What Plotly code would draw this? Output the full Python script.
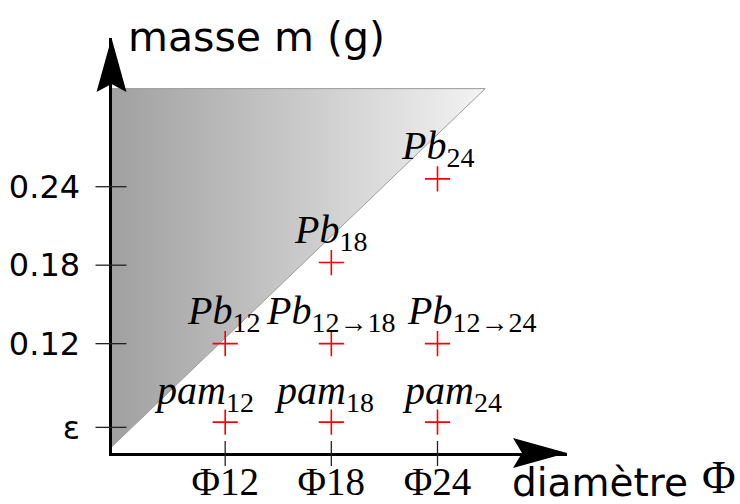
import plotly.graph_objects as go

W, H = 740, 504

# --- data ---
diametres = [12, 18, 24]
x_ticktext = ["Φ12", "Φ18", "Φ24"]

eps = 0.056
mass_ticks = [eps, 0.12, 0.18, 0.24]
mass_ticktext = ["ε", "0.12", "0.18", "0.24"]

pb_x = [12, 18, 24, 18, 24]
pb_y = [0.12, 0.12, 0.12, 0.182, 0.246]
pb_subs = ["12", "12→18", "12→24", "18", "24"]

pam_x = [12, 18, 24]
pam_y = [0.06, 0.06, 0.06]
pam_subs = ["12", "18", "24"]

# shaded zone (triangle) in data units
zone_x = [5.58, 5.58, 26.7, 5.58]
zone_y = [0.041, 0.315, 0.315, 0.041]

# label offsets (px) relative to their marker
pb_dx = [-39, -66, -31, -38, -37]
pam_dx = [-72, -58, -36]

# axis geometry
x_range = [5.575, 31.32]
y_range = [0.0364, 0.3537]
ox, oy = 111.5 / W, 1 - 453 / H  # origin in paper coords

LABEL_FONT = dict(family="Liberation Serif", size=40, color="black")
SANS = "DejaVu Sans"

fig = go.Figure()

fig.add_trace(go.Scatter(
    x=zone_x, y=zone_y,
    mode="lines",
    fill="toself",
    fillgradient=dict(type="horizontal",
                      colorscale=[[0, "#a0a0a0"], [1, "#f3f3f3"]]),
    line=dict(color="#9c9c9c", width=1),
    hoverinfo="skip",
))

cross = dict(symbol="cross-thin", size=18, line=dict(color="red", width=1.6))
fig.add_trace(go.Scatter(x=pb_x, y=pb_y, mode="markers", marker=cross))
fig.add_trace(go.Scatter(x=pam_x, y=pam_y, mode="markers", marker=cross))

for x, y, sub, dx in zip(pb_x, pb_y, pb_subs, pb_dx):
    fig.add_annotation(x=x, y=y, text=f"<i>Pb</i><sub>{sub}</sub>",
                       xanchor="left", yanchor="bottom", xshift=dx, yshift=5,
                       showarrow=False, borderpad=0, font=LABEL_FONT)

for x, y, sub, dx in zip(pam_x, pam_y, pam_subs, pam_dx):
    fig.add_annotation(x=x, y=y, text=f"<i>pam</i><sub>{sub}</sub>",
                       xanchor="left", yanchor="bottom", xshift=dx, yshift=3,
                       showarrow=False, borderpad=0, font=LABEL_FONT)

# tick marks crossing the axes
for v in mass_ticks:
    fig.add_shape(type="line", xref="paper", xsizemode="pixel", xanchor=ox,
                  x0=-16, x1=15, yref="y", y0=v, y1=v,
                  line=dict(color="#222", width=1.3))
for v in diametres:
    fig.add_shape(type="line", yref="paper", ysizemode="pixel", yanchor=oy,
                  y0=12, y1=-13, xref="x", x0=v, x1=v,
                  line=dict(color="#222", width=1.3))

# arrow heads
fig.add_shape(type="path", xref="paper", yref="paper",
              xsizemode="pixel", ysizemode="pixel",
              xanchor=ox, yanchor=1 - 38 / H,
              path="M0,0 L-15,-54 L0,-46 L15,-54 Z",
              fillcolor="black", line=dict(width=0))
fig.add_shape(type="path", xref="paper", yref="paper",
              xsizemode="pixel", ysizemode="pixel",
              xanchor=567 / W, yanchor=oy,
              path="M0,0 L-54,15 L-45,0 L-54,-15 Z",
              fillcolor="black", line=dict(width=0))

# axis titles
fig.add_annotation(xref="paper", yref="paper", x=126 / W, y=1 - 37 / H,
                   xanchor="left", yanchor="middle", showarrow=False,
                   text="masse m (g)",
                   font=dict(family=SANS, size=41, color="black"))
fig.add_annotation(xref="paper", yref="paper", x=690 / W, y=0,
                   xanchor="right", yanchor="bottom", yshift=-3, showarrow=False,
                   text="diamètre",
                   font=dict(family=SANS, size=39, color="black"))
fig.add_annotation(xref="paper", yref="paper", x=737 / W, y=0,
                   xanchor="right", yanchor="bottom", yshift=0, showarrow=False,
                   borderpad=0, text="Φ",
                   font=dict(family="Liberation Serif", size=46, color="black"))

fig.update_layout(
    width=W, height=H,
    margin=dict(l=0, r=0, t=0, b=0, autoexpand=False),
    paper_bgcolor="white", plot_bgcolor="rgba(0,0,0,0)",
    showlegend=False,
    xaxis=dict(domain=[ox, 567 / W], range=x_range,
               showgrid=False, zeroline=False,
               showline=True, linewidth=3, linecolor="black",
               ticks="", tickvals=diametres, ticktext=x_ticktext,
               ticklabelstandoff=-8,
               tickfont=dict(family="Liberation Serif", size=39, color="black")),
    yaxis=dict(domain=[oy, 1 - 38 / H], range=y_range,
               showgrid=False, zeroline=False,
               showline=True, linewidth=3, linecolor="black",
               ticks="", tickvals=mass_ticks, ticktext=mass_ticktext,
               ticklabelstandoff=22,
               tickfont=dict(family=SANS, size=32, color="black")),
)

# page body has a default 8px margin; drop it so the figure sits at the corner
fig.write_html("out.html", config={"displayModeBar": False},
               post_script="document.body.style.margin='0';")
